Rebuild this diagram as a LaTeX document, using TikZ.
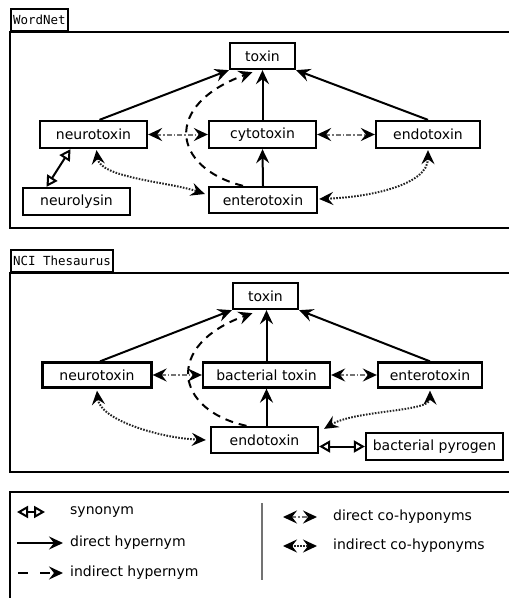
\documentclass[tikz,border=0pt]{standalone}
\usepackage{fontspec}
\usetikzlibrary{arrows.meta,calc}
\newfontfamily\nodefont{DejaVu Sans}
\newfontfamily\tabfont{DejaVu Sans Mono}
\begin{document}
\begin{tikzpicture}[x=1pt,y=-1pt,
  box/.style={draw, line width=2.3pt, inner sep=0pt, minimum height=26pt, font=\nodefont\fontsize{14}{16}\selectfont},
  tab/.style={draw, line width=2pt, inner xsep=2pt, inner ysep=1pt, font=\tabfont\fontsize{12.5}{13}\selectfont, anchor=south west, minimum height=22pt},
  frame/.style={draw, line width=2.2pt},
  hyper/.style={line width=2pt, -{Stealth[length=14pt,width=13pt,inset=5pt]}},
  ihyper/.style={hyper, dash pattern=on 8pt off 6pt},
  cohypo/.style={line width=2pt, draw=black!55, dash pattern=on 5pt off 2pt on 1.5pt off 2pt, {Stealth[length=14pt,width=13pt,inset=5pt,black]}-{Stealth[length=14pt,width=13pt,inset=5pt,black]}},
  icohypo/.style={line width=2pt, draw=black!85, dash pattern=on 1.6pt off 1.4pt, {Stealth[length=14pt,width=13pt,inset=5pt,black]}-{Stealth[length=14pt,width=13pt,inset=5pt,black]}},
  syn/.style={line width=2pt, {Triangle[open,length=11pt,width=12pt]}-{Triangle[open,length=11pt,width=12pt]}},
  lab/.style={font=\nodefont\fontsize{14}{16}\selectfont, anchor=west, inner sep=0pt},
  sep/.style={draw=black!55, line width=1.4pt}
]
\useasboundingbox (0,0) rectangle (509,598);

% ---------- WordNet ----------
\draw[frame] (10,32) rectangle (530,228);
\node[tab] (tab1) at (10,32) {WordNet};

\node[box, minimum width=65pt] (t1) at (262.5,56) {toxin};
\node[box, minimum width=107pt, minimum height=27pt] (n1) at (93.5,134.5) {neurotoxin};
\node[box, minimum width=107pt, minimum height=27pt] (c1) at (262.5,134.5) {cytotoxin};
\node[box, minimum width=104pt, minimum height=27pt] (e1) at (428,134.5) {endotoxin};
\node[box, minimum width=107pt, minimum height=27pt] (nl1) at (76.5,201.5) {neurolysin};
\node[box, minimum width=108pt] (en1) at (263,200) {enterotoxin};

\draw[hyper] ($(n1.north)+(6,0)$) -- (t1.south west);
\draw[hyper] (e1.north) -- (t1.south east);
\draw[hyper] (c1.north) -- (t1.south);
\draw[hyper] (en1.north) -- (c1.south);
\draw[ihyper] ($(en1.north)+(-20,0)$) .. controls (172,168) and (162,105) .. ($(t1.south)+(-10,2)$);
\draw[cohypo] (n1.east) -- (c1.west);
\draw[cohypo] (c1.east) -- (e1.west);
\draw[icohypo] ($(n1.south)+(3,1)$) .. controls (100,178) and (170,182) .. ($(en1.west)+(-3,-6)$);
\draw[icohypo] ($(e1.south)+(0,1)$) .. controls (428,185) and (370,197) .. ($(en1.east)+(1,-1)$);
\draw[syn] ($(nl1.north)+(-30,0)$) -- ($(n1.south)+(-23,0)$);

% ---------- NCI Thesaurus ----------
\draw[frame] (10,273) rectangle (530,472);
\node[tab] (tab2) at (10,273) {NCI Thesaurus};

\node[box, minimum width=65pt] (t2) at (265.5,296) {toxin};
\node[box, minimum width=109pt, minimum height=25pt] (n2) at (97,375) {neurotoxin};
\node[box, minimum width=127pt, minimum height=25pt] (b2) at (266.5,375) {bacterial toxin};
\node[box, minimum width=104pt, minimum height=25pt] (en2) at (430,375) {enterotoxin};
\node[box, minimum width=107pt] (d2) at (264.5,440) {endotoxin};
\node[box, minimum width=137pt, minimum height=27pt] (bp) at (434.5,446.5) {bacterial pyrogen};

\draw[hyper] ($(n2.north)+(3,0)$) -- (t2.south west);
\draw[hyper] (en2.north) -- (t2.south east);
\draw[hyper] (b2.north) -- (b2.north |- t2.south);
\draw[hyper] (d2.north -| b2.south) -- (b2.south);
\draw[ihyper] ($(d2.north)+(-18,0)$) .. controls (174,410) and (164,345) .. ($(t2.south)+(-13,3)$);
\draw[cohypo] (n2.east) -- (b2.west);
\draw[cohypo] (b2.east) -- (en2.west);
\draw[icohypo] ($(n2.south)+(0,2)$) .. controls (100,420) and (160,438) .. ($(d2.west)+(-4,0)$);
\draw[icohypo] ($(en2.south)+(0,2)$) .. controls (430,412) and (355,410) .. ($(d2.north east)+(5,3)$);
\draw[syn] (bp.west -| d2.east) -- (bp.west);

% ---------- Legend ----------
\draw[frame] (10,492) rectangle (530,620);
\coordinate (ls1) at (17,512); \coordinate (le1) at (45,512);
\draw[syn] (ls1) -- (le1);
\node[lab] (lt1) at (70,512) {synonym};
\coordinate (ls2) at (17,543); \coordinate (le2) at (63,543);
\draw[hyper] (ls2) -- (le2);
\node[lab] (lt2) at (70,543) {direct hypernym};
\coordinate (ls3) at (18,573); \coordinate (le3) at (63,573);
\draw[hyper, dash pattern=on 10pt off 12pt] (ls3) -- (le3);
\node[lab] (lt3) at (70,573) {indirect hypernym};
\coordinate (sa) at (262,503); \coordinate (sb) at (262,580);
\draw[sep] (sa) -- (sb);
\coordinate (ls4) at (283,517); \coordinate (le4) at (317,517);
\draw[cohypo] (ls4) -- (le4);
\node[lab] (lt4) at (333,517) {direct co-hyponyms};
\coordinate (ls5) at (283,546); \coordinate (le5) at (317,546);
\draw[icohypo] (ls5) -- (le5);
\node[lab] (lt5) at (333,546) {indirect co-hyponyms};
\end{tikzpicture}
\end{document}
